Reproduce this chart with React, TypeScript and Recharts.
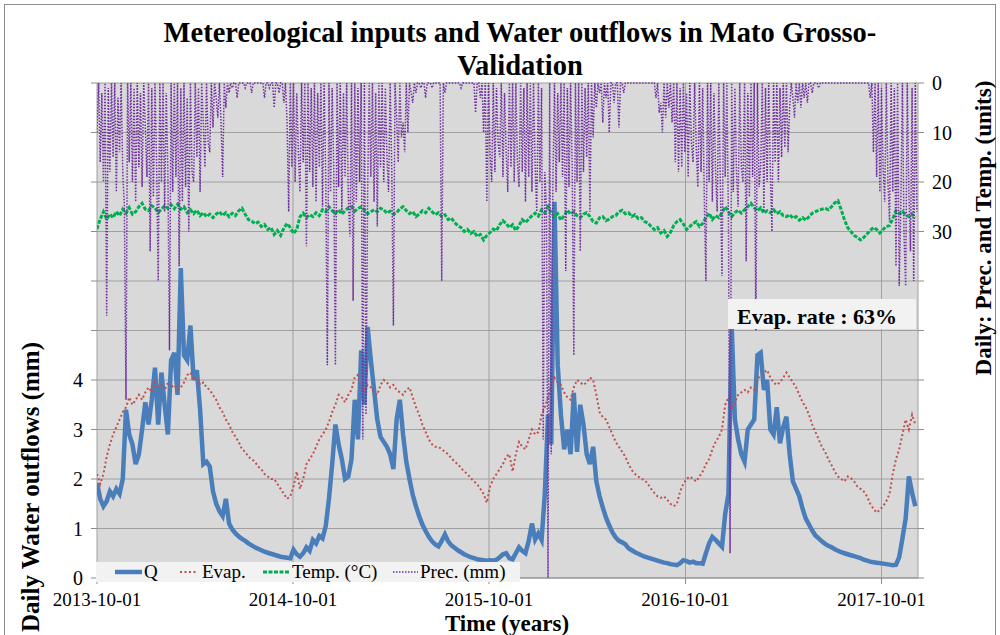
import React from 'react';
import { ComposedChart, Line, XAxis, YAxis, CartesianGrid } from 'recharts';

const FONT = '"Liberation Serif", "Times New Roman", serif';

// x axis: days since 2013-10-01
const tickDays = [0, 365, 730, 1096, 1461];
const tickLabels = ['2013-10-01', '2014-10-01', '2015-10-01', '2016-10-01', '2017-10-01'];
const flowTicks = [0, 1, 2, 3, 4, 5, 6, 7, 8, 9, 10];
const metTicks = [0, 10, 20, 30, 40, 50, 60, 70, 80, 90, 100];

// Q, Evap. and Temp. every 6 days (one row = 30 days)
const flowQ = [
  1.92, 1.6, 1.45, 1.55, 1.75,
  1.65, 1.8, 1.7, 2.0, 3.4,
  2.9, 2.7, 2.3, 2.5, 3.0,
  3.55, 3.1, 3.6, 4.25, 3.1,
  4.15, 3.5, 2.9, 4.4, 4.55,
  3.7, 6.26, 4.5, 4.4, 5.1,
  4.0, 4.2, 3.4, 2.3, 2.35,
  2.25, 1.75, 1.5, 1.35, 1.25,
  1.6, 1.1, 0.98, 0.9, 0.84,
  0.79, 0.75, 0.7, 0.66, 0.62,
  0.59, 0.56, 0.53, 0.51, 0.49,
  0.47, 0.45, 0.43, 0.42, 0.41,
  0.4, 0.57, 0.48, 0.43, 0.5,
  0.62, 0.55, 0.77, 0.7, 0.85,
  0.8, 1.05, 1.6, 2.3, 3.1,
  2.7, 2.4, 2.0, 2.05, 2.4,
  3.6, 2.8, 4.6, 3.5, 5.07,
  4.4, 3.8, 3.2, 2.85, 2.75,
  2.65, 2.5, 2.2, 3.2, 3.6,
  2.9, 2.35, 2.0, 1.68, 1.45,
  1.25, 1.08, 0.95, 0.83, 0.74,
  0.68, 0.64, 0.75, 0.88, 0.74,
  0.66, 0.61, 0.56, 0.52, 0.48,
  0.45, 0.42, 0.4, 0.38, 0.37,
  0.36, 0.35, 0.36, 0.35, 0.37,
  0.42, 0.48, 0.5, 0.4, 0.38,
  0.5, 0.62, 0.55, 0.5, 0.75,
  1.1, 0.78, 0.9, 0.77, 1.7,
  3.3, 2.7, 7.6, 4.3, 3.3,
  2.6, 3.0, 2.5, 3.74, 2.55,
  3.5, 3.1, 2.5, 2.3, 2.65,
  1.95, 1.65, 1.42, 1.22, 1.06,
  0.92, 0.82, 0.75, 0.72, 0.68,
  0.6, 0.56, 0.52, 0.49, 0.46,
  0.43, 0.41, 0.39, 0.37, 0.35,
  0.33, 0.31, 0.3, 0.28, 0.27,
  0.26, 0.3, 0.36, 0.34, 0.31,
  0.33, 0.3, 0.3, 0.29, 0.5,
  0.7, 0.83, 0.77, 0.7, 0.63,
  1.3, 1.7, 5.1, 3.2, 2.8,
  2.5, 2.35, 3.0, 3.1, 3.2,
  4.5, 4.55, 3.8, 4.0, 3.0,
  2.9, 3.45, 2.72, 3.05, 3.26,
  2.5, 1.95, 1.8, 1.65, 1.4,
  1.2, 1.08, 0.96, 0.86, 0.8,
  0.74, 0.69, 0.65, 0.62, 0.58,
  0.55, 0.52, 0.5, 0.48, 0.46,
  0.44, 0.42, 0.4, 0.37, 0.35,
  0.33, 0.32, 0.31, 0.3, 0.29,
  0.28, 0.27, 0.26, 0.27, 0.42,
  0.8, 1.2, 2.05, 1.72, 1.45,
];

const evap = [
  2.1, 1.9, 2.1, 2.45, 2.7,
  2.9, 3.05, 3.2, 3.35, 3.45,
  3.65, 3.5, 3.6, 3.7, 3.6,
  3.75, 3.85, 3.75, 3.95, 3.85,
  3.9, 3.8, 3.95, 3.85, 3.9,
  3.8, 3.85, 3.95, 4.1, 4.15,
  4.0, 4.05, 3.9, 3.95, 3.85,
  3.8, 3.7, 3.6, 3.45, 3.35,
  3.2, 3.1, 2.95, 2.85, 2.75,
  2.6, 2.55, 2.45, 2.4, 2.35,
  2.25, 2.2, 2.1, 2.05, 2.0,
  2.0, 1.9, 1.8, 1.7, 1.6,
  1.65, 1.85, 2.15, 1.8, 2.0,
  2.3, 2.4, 2.5, 2.65, 2.8,
  2.9, 3.0, 3.15, 3.35, 3.5,
  3.7, 3.65, 3.55, 3.7, 3.8,
  4.05, 4.1, 3.85, 3.8, 3.9,
  3.85, 3.75, 3.7, 3.9, 4.0,
  3.95, 3.85, 3.9, 3.8, 3.75,
  3.7, 3.8, 3.85, 3.65, 3.45,
  3.3, 3.1, 2.95, 2.8, 2.7,
  2.65, 2.65, 2.6, 2.55, 2.5,
  2.42, 2.35, 2.3, 2.22, 2.15,
  2.1, 2.02, 1.95, 1.9, 1.8,
  1.7, 1.52, 1.85, 2.0, 2.1,
  2.2, 2.3, 2.45, 2.5, 2.15,
  2.5, 2.75, 2.65, 2.6, 2.8,
  3.0, 2.9, 2.95, 3.3, 3.45,
  3.65, 3.9, 4.05, 3.95, 3.9,
  3.75, 3.65, 3.6, 3.85, 4.0,
  3.95, 3.9, 3.95, 4.05, 4.0,
  3.7, 3.35, 3.25, 3.2, 3.05,
  2.9, 2.75, 2.65, 2.55, 2.45,
  2.3, 2.18, 2.1, 2.05, 2.0,
  1.98, 1.9, 1.8, 1.72, 1.65,
  1.62, 1.65, 1.58, 1.5, 1.45,
  1.5, 1.75, 1.9, 2.0, 2.05,
  2.0, 1.95, 2.05, 2.15, 2.3,
  2.4, 2.6, 2.75, 2.85, 3.0,
  3.5, 3.65, 3.4, 3.55, 3.7,
  3.75, 3.8, 3.75, 3.85, 3.8,
  4.0, 4.1, 4.15, 4.2, 4.05,
  3.95, 3.9, 3.95, 4.05, 4.15,
  4.05, 3.95, 3.85, 3.7, 3.55,
  3.45, 3.3, 3.1, 2.95, 2.8,
  2.65, 2.55, 2.4, 2.28, 2.15,
  2.05, 2.0, 1.95, 2.05, 2.02,
  1.95, 1.85, 1.8, 1.75, 1.65,
  1.5, 1.4, 1.32, 1.38, 1.45,
  1.55, 1.7, 2.1, 2.4, 2.6,
  2.9, 3.2, 3.0, 3.3, 3.1,
];

const temp = [
  29.5, 27.5, 26.0, 27.5, 26.5,
  27.2, 26.0, 26.8, 25.5, 26.3,
  25.2, 26.5, 26.0, 25.0, 24.3,
  25.5, 25.8, 24.8, 25.2, 26.2,
  25.5, 24.8, 25.3, 24.6, 25.4,
  24.5, 25.5, 25.0, 26.2, 25.6,
  26.4, 25.7, 26.8, 26.2, 27.0,
  26.5, 27.2, 26.5, 26.0, 26.8,
  26.2, 27.0, 26.3, 26.8, 25.8,
  25.3, 26.5, 27.6, 27.9, 28.4,
  28.1, 29.0, 28.6, 29.6, 29.2,
  30.6, 29.8, 30.8, 29.3, 28.4,
  29.2, 30.4, 29.6, 27.0, 26.3,
  27.2, 26.6, 27.0, 26.2, 26.8,
  25.6, 26.0, 25.0, 25.8, 26.4,
  25.6, 26.5, 25.8, 25.2, 25.0,
  25.9, 25.4, 25.0, 25.6, 26.4,
  26.0, 25.6, 26.0, 25.3, 25.6,
  26.3, 25.9, 26.5, 26.2, 25.4,
  25.0, 25.8, 26.4, 26.0, 27.0,
  26.5, 25.8, 26.2, 25.3, 26.0,
  26.6, 26.2, 27.0, 26.6, 27.6,
  27.3, 28.2, 28.8, 29.2, 30.0,
  29.6, 30.4, 30.0, 31.0, 30.6,
  31.7, 30.8, 30.2, 29.5, 29.8,
  28.6, 27.8, 28.4, 29.2, 28.6,
  29.8, 28.8, 27.6, 28.2, 27.5,
  26.8, 26.3, 26.9, 25.6, 26.2,
  25.0, 26.2, 27.0, 26.4, 27.7,
  26.8, 25.7, 26.5, 26.0, 26.8,
  27.2, 26.5, 26.2, 27.0, 28.0,
  28.3, 27.2, 27.0, 27.8, 27.5,
  27.0, 26.8, 26.0, 25.7, 26.4,
  26.2, 27.0, 26.6, 27.4, 27.2,
  28.0, 28.3, 29.0, 29.6, 29.2,
  30.3, 29.8, 31.0, 30.2, 28.8,
  28.0, 27.6, 28.5, 29.6, 29.0,
  28.4, 28.0, 29.0, 28.4, 27.2,
  26.3, 27.6, 26.8, 27.2, 26.2,
  25.0, 26.0, 27.0, 26.2, 25.7,
  26.3, 25.6, 25.0, 24.3, 25.2,
  25.8, 25.2, 26.3, 25.8, 26.2,
  25.6, 26.4, 26.0, 26.8, 27.0,
  26.6, 27.3, 27.0, 27.7, 27.2,
  27.7, 27.0, 26.3, 26.0, 25.7,
  25.5, 25.3, 25.6, 25.0, 24.2,
  23.8, 25.6, 27.6, 29.2, 30.0,
  30.8, 31.2, 31.7, 31.2, 30.5,
  29.8, 29.2, 29.6, 30.3, 29.6,
  29.0, 28.8, 27.4, 25.8, 26.4,
  26.0, 26.6, 27.0, 26.5, 27.2,
];

// Prec. every 3 days (one row = 30 days)
const prec = [
  10, 0, 16, 2, 20, 0, 47, 1, 18, 0,
  15, 0, 22, 3, 14, 0, 18, 25, 64, 0,
  16, 0, 20, 1, 24, 0, 17, 2, 21, 0,
  9, 19, 0, 34, 1, 23, 0, 16, 40, 0,
  20, 0, 26, 2, 18, 54, 0, 22, 0, 19,
  0, 37, 1, 24, 0, 21, 3, 30, 0, 18,
  20, 0, 15, 1, 22, 0, 8, 17, 0, 12,
  14, 0, 9, 0, 3, 7, 0, 8, 19, 0,
  5, 0, 2, 0, 1, 0, 0, 3, 0, 0,
  0, 0, 1, 0, 0, 0, 2, 0, 0, 0,
  0, 0, 0, 0, 3, 0, 0, 1, 0, 0,
  5, 0, 0, 2, 0, 0, 4, 0, 8, 26,
  0, 17, 0, 20, 2, 14, 22, 0, 16, 0,
  33, 0, 18, 1, 21, 0, 24, 2, 17, 0,
  25, 0, 19, 57, 0, 22, 1, 18, 57, 0,
  21, 0, 26, 2, 19, 0, 23, 31, 0, 44,
  0, 24, 1, 20, 0, 72, 0, 67, 22, 0,
  19, 0, 24, 2, 29, 0, 17, 0, 20, 1,
  15, 22, 0, 18, 49, 0, 7, 16, 0, 11,
  8, 14, 0, 10, 0, 2, 4, 0, 2, 0,
  0, 1, 0, 0, 3, 0, 0, 0, 1, 0,
  0, 0, 0, 0, 40, 0, 2, 0, 0, 0,
  0, 0, 0, 0, 0, 0, 1, 0, 0, 0,
  0, 0, 0, 0, 0, 6, 0, 0, 3, 0,
  10, 0, 24, 0, 14, 20, 0, 18, 1, 12,
  15, 0, 19, 2, 14, 22, 0, 17, 0, 20,
  0, 16, 21, 0, 18, 1, 24, 0, 19, 0,
  22, 0, 17, 26, 0, 20, 1, 72, 18, 25,
  100, 0, 75, 20, 0, 22, 2, 16, 0, 19,
  0, 38, 1, 21, 0, 17, 55, 0, 20, 0,
  34, 0, 18, 1, 15, 0, 26, 0, 11, 0,
  5, 0, 2, 0, 8, 0, 3, 0, 10, 0,
  0, 4, 0, 0, 9, 0, 0, 2, 0, 0,
  0, 0, 0, 0, 0, 0, 0, 0, 0, 0,
  0, 0, 0, 0, 0, 0, 0, 3, 0, 6,
  4, 10, 0, 7, 0, 5, 0, 8, 0, 16,
  0, 18, 1, 17, 0, 14, 2, 19, 0, 12,
  16, 0, 13, 21, 0, 18, 1, 23, 40, 0,
  20, 0, 24, 2, 18, 26, 0, 21, 39, 0,
  19, 0, 28, 95, 0, 22, 1, 18, 25, 0,
  17, 20, 0, 36, 2, 23, 0, 19, 0, 50,
  0, 21, 17, 0, 26, 1, 20, 0, 18, 30,
  0, 16, 0, 20, 1, 15, 0, 13, 0, 14,
  5, 0, 3, 7, 0, 4, 0, 5, 0, 3,
  0, 4, 0, 0, 2, 0, 0, 0, 1, 0,
  0, 0, 0, 0, 0, 0, 0, 0, 0, 0,
  0, 0, 0, 0, 0, 0, 0, 0, 0, 0,
  0, 0, 0, 0, 0, 0, 0, 0, 0, 0,
  3, 0, 14, 0, 19, 0, 22, 1, 17, 24,
  0, 20, 28, 0, 22, 1, 37, 0, 41, 25,
  0, 31, 41, 0, 22, 34, 1, 40, 0, 26,
];

// one row per 3 days; the 6-day series fill every other row
const rows = prec.map((p, i) => {
  const row: Record<string, number> = { day: i * 3, prec: p };
  if (i % 2 === 0) {
    const j = i / 2;
    row.q = flowQ[j];
    row.evap = evap[j];
    row.temp = temp[j];
  }
  return row;
});

const COLORS = {
  q: '#4a7ebb',
  evap: '#c0504d',
  temp: '#00b050',
  prec: '#7030a0',
};

function DateTick({ x, y, payload }: any) {
  const i = tickDays.indexOf(payload.value);
  return (
    <text x={x} y={y} dy="0.71em" textAnchor="middle" fontSize={19} fill="#000" fontFamily={FONT}>
      {tickLabels[i]}
    </text>
  );
}

export default function App() {
  return (
    <div style={{ position: 'absolute', left: 0, top: 0, width: 1000, height: 635, background: '#fff', overflow: 'hidden' }}>
      <ComposedChart width={1000} height={635} data={rows} margin={{ top: 83, right: 0, bottom: 0, left: 0 }}>
        <CartesianGrid yAxisId="flow" stroke="#a0a0a0" fill="#d9d9d9" />
        <XAxis
          dataKey="day"
          type="number"
          domain={[0, 1529]}
          ticks={tickDays}
          interval={0}
          allowDataOverflow
          height={57}
          tickSize={6}
          tickMargin={9}
          axisLine={{ stroke: '#8c8c8c' }}
          tickLine={{ stroke: '#8c8c8c' }}
          tick={<DateTick />}
        />
        <YAxis
          yAxisId="flow"
          domain={[0, 10]}
          ticks={flowTicks}
          interval={0}
          width={97}
          axisLine={false}
          tickSize={6}
          tickMargin={8}
          tickLine={{ stroke: '#8c8c8c' }}
          tickFormatter={(v: number) => (v <= 4 ? String(v) : '')}
          tick={{ fontSize: 20, fill: '#000', fontFamily: FONT }}
        />
        <YAxis
          yAxisId="met"
          orientation="right"
          reversed
          domain={[0, 100]}
          ticks={metTicks}
          interval={0}
          width={82}
          axisLine={false}
          tickSize={6}
          tickMargin={8}
          tickLine={{ stroke: '#8c8c8c' }}
          tickFormatter={(v: number) => (v <= 30 ? String(v) : '')}
          tick={{ fontSize: 20, fill: '#000', fontFamily: FONT }}
        />
        <Line yAxisId="flow" dataKey="q" type="linear" stroke={COLORS.q} strokeWidth={4.5} dot={false} connectNulls isAnimationActive={false} />
        <Line yAxisId="flow" dataKey="evap" type="linear" stroke={COLORS.evap} strokeWidth={2} strokeDasharray="2 2.5" dot={false} connectNulls isAnimationActive={false} />
        <Line yAxisId="met" dataKey="temp" type="linear" stroke={COLORS.temp} strokeWidth={3} strokeDasharray="4 1.5" dot={false} connectNulls isAnimationActive={false} />
        <Line yAxisId="met" dataKey="prec" type="linear" stroke={COLORS.prec} strokeWidth={1.5} strokeDasharray="1.5 1.5" dot={false} isAnimationActive={false} />
      </ComposedChart>

      {/* titles, legend and annotation drawn over the chart */}
      <svg width={1000} height={635} style={{ position: 'absolute', left: 0, top: 0, pointerEvents: 'none' }} fontFamily={FONT}>
        <rect x={4.5} y={4.5} width={991} height={640} fill="none" stroke="#8c8c8c" />
        <text x={520} y={42} textAnchor="middle" fontSize={28.5} fontWeight="bold">
          Metereological inputs and Water outflows in Mato Grosso-
        </text>
        <text x={520} y={75} textAnchor="middle" fontSize={28.5} fontWeight="bold">
          Validation
        </text>
        <text transform="translate(30,487) rotate(-90)" textAnchor="middle" dy="0.35em" fontSize={25} fontWeight="bold">
          Daily Water outflows (mm)
        </text>
        <text transform="translate(983,228) rotate(-90)" textAnchor="middle" dy="0.35em" fontSize={23} fontWeight="bold">
          Daily: Prec. and  Temp. (units)
        </text>
        <text x={507} y={631} textAnchor="middle" fontSize={23} fontWeight="bold">
          Time (years)
        </text>

        <rect x={728} y={299} width={188} height={30} fill="#f2f2f2" />
        <text x={737} y={324} fontSize={22} fontWeight="bold">
          Evap. rate : 63%
        </text>

        <rect x={96} y={562} width={424} height={20} fill="#f2f2f2" />
        <line x1={115} x2={142} y1={572} y2={572} stroke={COLORS.q} strokeWidth={4.5} />
        <text x={144} y={578} fontSize={19}>Q</text>
        <line x1={180} x2={198} y1={572} y2={572} stroke={COLORS.evap} strokeWidth={2} strokeDasharray="2 2.5" />
        <text x={202} y={578} fontSize={19}>Evap.</text>
        <line x1={263} x2={290} y1={572} y2={572} stroke={COLORS.temp} strokeWidth={3} strokeDasharray="4 1.5" />
        <text x={292} y={578} fontSize={19}>Temp. (°C)</text>
        <line x1={393} x2={418} y1={572} y2={572} stroke={COLORS.prec} strokeWidth={1.5} strokeDasharray="1.5 1.5" />
        <text x={420} y={578} fontSize={19}>Prec. (mm)</text>
      </svg>
    </div>
  );
}
